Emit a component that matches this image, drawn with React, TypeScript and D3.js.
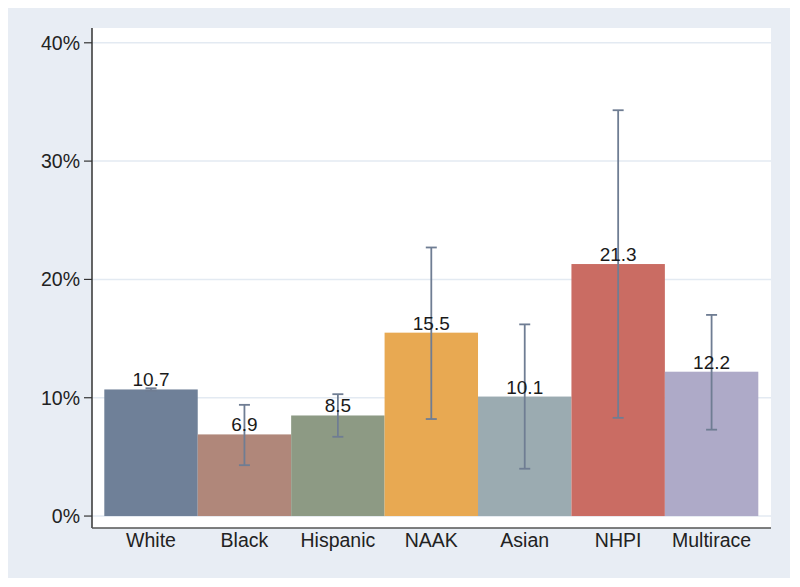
import React from "react";
import * as d3 from "d3";

const categories = ["White", "Black", "Hispanic", "NAAK", "Asian", "NHPI", "Multirace"];
const values = [10.7, 6.9, 8.5, 15.5, 10.1, 21.3, 12.2];
const ciLow = [10.6, 4.3, 6.7, 8.2, 4.0, 8.3, 7.3];
const ciHigh = [10.8, 9.4, 10.3, 22.7, 16.2, 34.3, 17.0];
const barColors = ["#6f8098", "#b0877a", "#8d9a84", "#e8a952", "#9babb1", "#ca6c63", "#aeaac8"];
const yTicks = [0, 10, 20, 30, 40];

const W = 800;
const H = 587;
const plot = { left: 92, right: 771, top: 28, bottom: 528 };
const font = "'Liberation Sans', Arial, Helvetica, sans-serif";

export default function App() {
  const y = d3.scaleLinear().domain([-1.01, 41.25]).range([plot.bottom, plot.top]);
  const x = d3
    .scaleBand()
    .domain(categories)
    .range([104.3, 758.3])
    .paddingInner(0)
    .paddingOuter(0);
  const bw = x.bandwidth();
  const capHalf = 5.5;
  const errColor = "#6f7d93";

  return (
    <svg
      width={W}
      height={H}
      style={{ position: "absolute", left: 0, top: 0, display: "block" }}
      fontFamily={font}
    >
      <rect x={0} y={0} width={W} height={H} fill="#ffffff" />
      <rect x={8} y={8} width={782} height={570} fill="#e8edf4" />
      <rect
        x={plot.left}
        y={plot.top}
        width={plot.right - plot.left}
        height={plot.bottom - plot.top}
        fill="#ffffff"
      />
      {yTicks.map((t) => (
        <g key={t}>
          <line
            x1={plot.left}
            x2={plot.right}
            y1={y(t)}
            y2={y(t)}
            stroke="#e3eaf2"
            strokeWidth={1.5}
          />
          <line x1={84} x2={plot.left} y1={y(t)} y2={y(t)} stroke="#333" strokeWidth={1.2} />
          <text x={80} y={y(t)} dy="0.35em" textAnchor="end" fontSize={19.5} fill="#222">
            {t}%
          </text>
        </g>
      ))}
      {categories.map((c, i) => (
        <rect
          key={c}
          x={x(c)!}
          y={y(values[i])}
          width={bw}
          height={y(0) - y(values[i])}
          fill={barColors[i]}
        />
      ))}
      {categories.map((c, i) => {
        const cx = x(c)! + bw / 2;
        return (
          <g key={c + "-err"} stroke={errColor} strokeWidth={1.8}>
            <line x1={cx} x2={cx} y1={y(ciHigh[i])} y2={y(ciLow[i])} />
            <line x1={cx - capHalf} x2={cx + capHalf} y1={y(ciHigh[i])} y2={y(ciHigh[i])} />
            <line x1={cx - capHalf} x2={cx + capHalf} y1={y(ciLow[i])} y2={y(ciLow[i])} />
          </g>
        );
      })}
      {categories.map((c, i) => (
        <text
          key={c + "-lab"}
          x={x(c)! + bw / 2}
          y={y(values[i]) - 3}
          textAnchor="middle"
          fontSize={19}
          fill="#1a1a1a"
        >
          {values[i].toFixed(1)}
        </text>
      ))}
      <line x1={plot.left} x2={plot.left} y1={plot.top} y2={plot.bottom} stroke="#333" strokeWidth={1.5} />
      <line x1={plot.left} x2={plot.right} y1={plot.bottom} y2={plot.bottom} stroke="#555" strokeWidth={1.5} />
      {categories.map((c) => (
        <text
          key={c + "-x"}
          x={x(c)! + bw / 2}
          y={547}
          textAnchor="middle"
          fontSize={19.5}
          fill="#222"
        >
          {c}
        </text>
      ))}
    </svg>
  );
}
